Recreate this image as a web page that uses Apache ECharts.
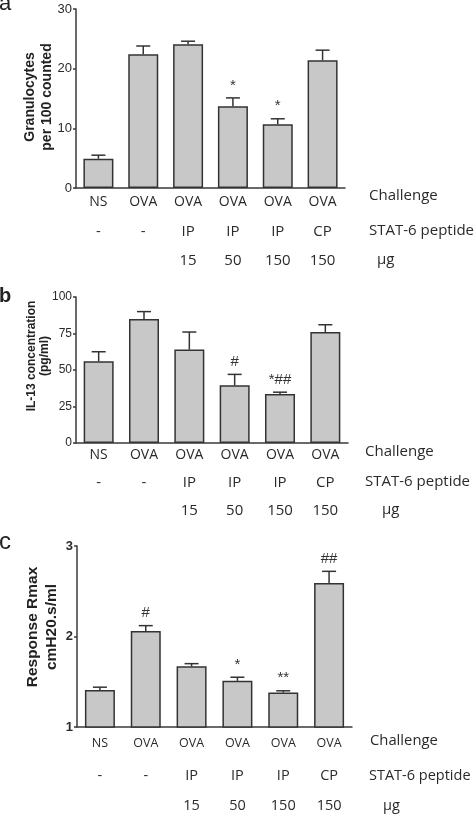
<!DOCTYPE html>
<html><head><meta charset="utf-8">
<script src="https://cdn.jsdelivr.net/npm/echarts@6/dist/echarts.min.js"></script>
<style>html,body{margin:0;padding:0;background:#fff}#c{width:474px;height:814px}</style>
</head><body><div id="c"></div>
<script>
// ---- data ----
const categories = ['NS', 'OVA', 'OVA', 'OVA', 'OVA', 'OVA'];
const peptide = ['-', '-', 'IP', 'IP', 'IP', 'CP'];
const doses = ['', '', '15', '50', '150', '150'];
const rowNames = ['Challenge', 'STAT-6 peptide', 'µg'];

const granMean = [4.9, 22.4, 24.1, 13.7, 10.7, 21.4];
const granUpper = [5.5, 23.8, 24.6, 15.1, 11.6, 23.1];
const granSig = ['', '', '', '*', '*', ''];

const il13Mean = [56, 85, 64, 39.5, 33.5, 76];
const il13Upper = [62.5, 90, 76, 47, 34.8, 81];
const il13Sig = ['', '', '', '#', '*##', ''];

const rmaxMean = [1.41, 2.06, 1.67, 1.51, 1.38, 2.59];
const rmaxUpper = [1.44, 2.12, 1.70, 1.55, 1.40, 2.72];
const rmaxSig = ['', '#', '', '*', '**', '##'];

const panelLetters = ['a', 'b', 'c'];
const yTitles = ['Granulocytes\nper 100 counted', 'IL-13 concentration\n(pg/ml)', 'Response Rmax\ncmH20.s/ml'];
const yRanges = [[0, 30, 10], [0, 100, 25], [1, 3, 1]];

// ---- layout / style ----
const panels = [
  {mean: granMean, upper: granUpper, sig: granSig,
   grid: {left: 76, top: 9, width: 269, height: 179},
   tickFont: {fontSize: 13, fontWeight: 'normal'},
   title: {x: 39, y: 97, font: 'bold 14px "Liberation Sans"', lineHeight: 17},
   cat: {fontSize: 14, margin: 7}, rowFont: 15, offsets: [0, 29, 58], rowMargin: 7,
   rowNamePos: [[369, 196, 15], [369, 231, 15], [377, 260, 15]],
   letter: {y: 5, font: '22px "Liberation Sans"'}},
  {mean: il13Mean, upper: il13Upper, sig: il13Sig,
   grid: {left: 76, top: 297, width: 272, height: 146},
   tickFont: {fontSize: 12, fontWeight: 'normal'},
   title: {x: 38, y: 356, font: 'bold 12px "Liberation Sans"', lineHeight: 13},
   cat: {fontSize: 14, margin: 5}, rowFont: 15, offsets: [0, 27, 55], rowMargin: 5,
   rowNamePos: [[365, 452, 15], [365, 482, 15], [382, 510, 15]],
   letter: {y: 298, font: 'bold 20px "Liberation Sans"'}},
  {mean: rmaxMean, upper: rmaxUpper, sig: rmaxSig,
   grid: {left: 77, top: 546, width: 275, height: 181},
   tickFont: {fontSize: 13, fontWeight: 'bold'},
   title: {x: 42.5, y: 627, font: 'bold 15.5px "Liberation Sans"', lineHeight: 19},
   cat: {fontSize: 12.5, margin: 10}, rowFont: 14.5, offsets: [0, 33, 63], rowMargin: 8,
   rowNamePos: [[370, 741, 14.8], [369, 776, 14.5], [383, 806, 14.5]],
   letter: {y: 542, font: '24px "Liberation Sans"'}}
];

const AX = '#3a3a3a';
const TXT = '#2a2a2a';
const rowFontFamily = '"Open Sans"';
const numFontFamily = '"Liberation Sans"';

const grid = [], xAxis = [], yAxis = [], series = [], graphic = [];
panels.forEach((p, i) => {
  grid.push(Object.assign({containLabel: false}, p.grid));
  const rows = [categories, peptide, doses];
  rows.forEach((rowData, r) => {
    xAxis.push({
      type: 'category', gridIndex: i, data: rowData, position: 'bottom', offset: p.offsets[r],
      axisLine: {show: r === 0, onZero: false, lineStyle: {color: AX, width: 1.5}},
      axisTick: {show: false},
      axisLabel: {
        interval: 0, color: TXT, fontFamily: rowFontFamily,
        fontSize: r === 0 ? p.cat.fontSize : p.rowFont,
        margin: r === 0 ? p.cat.margin : p.rowMargin
      }
    });
    const [nx, ny, nf] = p.rowNamePos[r];
    graphic.push({type: 'text', x: nx, y: ny, silent: true,
      style: {text: rowNames[r], font: nf + 'px ' + rowFontFamily, fill: TXT,
              align: 'left', verticalAlign: 'middle'}});
  });
  const [mn, mx, iv] = yRanges[i];
  yAxis.push({
    type: 'value', gridIndex: i, min: mn, max: mx, interval: iv,
    axisLine: {show: true, lineStyle: {color: AX, width: 1.5}},
    axisTick: {show: true, length: 3, lineStyle: {color: AX, width: 1.5}},
    splitLine: {show: false},
    axisLabel: {color: TXT, fontFamily: numFontFamily, fontSize: p.tickFont.fontSize,
                fontWeight: p.tickFont.fontWeight, margin: 4}
  });
  graphic.push({type: 'text', x: p.title.x, y: p.title.y, rotation: Math.PI / 2, silent: true,
    style: {text: yTitles[i], font: p.title.font, lineHeight: p.title.lineHeight, fill: '#222',
            align: 'center', verticalAlign: 'middle'}});
  series.push({
    type: 'bar', xAxisIndex: 3 * i, yAxisIndex: i, data: p.mean, barWidth: 30,
    itemStyle: {color: '#c8c8c8', borderColor: '#333', borderWidth: 1.5},
    silent: true
  });
  const sig = p.sig;
  series.push({
    type: 'custom', xAxisIndex: 3 * i, yAxisIndex: i, z: 5, silent: true,
    data: p.mean.map((m, k) => [k, p.upper[k], m]),
    encode: {x: 0, y: 1},
    renderItem(params, api) {
      const k = api.value(0);
      const top = api.coord([k, api.value(1)]);
      const base = api.coord([k, api.value(2)]);
      const half = 7;
      const st = {stroke: '#333', lineWidth: 1.5};
      const children = [
        {type: 'line', shape: {x1: top[0], y1: base[1], x2: top[0], y2: top[1]}, style: st},
        {type: 'line', shape: {x1: top[0] - half, y1: top[1], x2: top[0] + half, y2: top[1]}, style: st}
      ];
      const s = sig[k];
      if (s) {
        children.push({type: 'text', x: top[0], y: top[1] - 5,
          style: {text: s, align: 'center', verticalAlign: 'bottom',
                  font: '15px "Liberation Sans"', fill: '#333'}});
      }
      return {type: 'group', children};
    }
  });
  graphic.push({type: 'text', left: -1, top: p.letter.y - 12, silent: true,
    style: {text: panelLetters[i], font: p.letter.font, fill: '#222'}});
});

const chart = echarts.init(document.getElementById('c'), null, {renderer: 'canvas'});
chart.setOption({
  animation: false, backgroundColor: '#fff',
  grid, xAxis, yAxis, series, graphic
});
</script>
</body></html>
